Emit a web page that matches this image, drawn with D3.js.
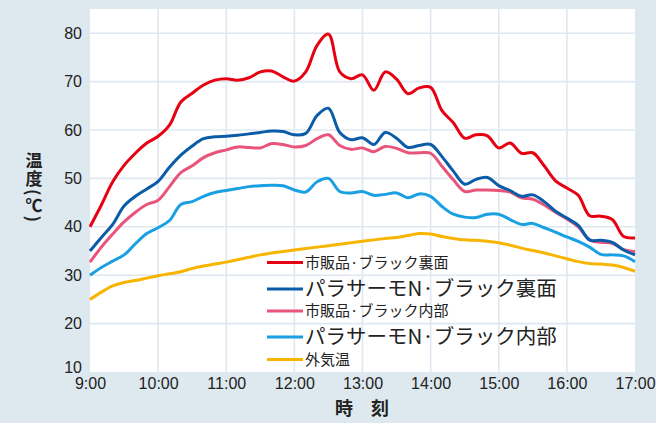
<!DOCTYPE html>
<html lang="ja">
<head>
<meta charset="UTF-8">
<title>温度</title>
<script src="https://cdnjs.cloudflare.com/ajax/libs/d3/7.8.5/d3.min.js"></script>
<style>
    body { margin: 0; background: #dde8ef; }
    svg { display: block; }
    .tick text { font-family: "Liberation Sans", Arial, sans-serif; font-size: 16px; fill: #222; }
    .jp { font-family: "Noto Sans CJK JP", sans-serif; fill: #222; }
</style>
</head>
<body>
<svg width="656" height="423"></svg>
<script>
    // minutes after 9:00, every 10 min
    const minutes = [0, 10, 20, 30, 40, 50, 60, 70, 80, 90, 100, 110, 120,
        130, 140, 150, 160, 170, 180, 190, 200, 210, 220, 230, 240,
        250, 260, 270, 280, 290, 300, 310, 320, 330, 340, 350, 360,
        370, 380, 390, 400, 410, 420, 430, 440, 450, 460, 470, 480];
    const hourTicks = [0, 60, 120, 180, 240, 300, 360, 420, 480];
    const hourLabels = ["9:00", "10:00", "11:00", "12:00", "13:00", "14:00", "15:00", "16:00", "17:00"];
    const tempTicks = [10, 20, 30, 40, 50, 60, 70, 80];

    const shihanUra = [40, 44.5, 49.3, 52.7, 55.2, 57.3, 58.7, 61, 65.8, 67.6, 69.3, 70.3, 70.6,
        70.3, 70.8, 72, 72.2, 71, 70.1, 72, 77.5, 79.8, 72, 70.6, 71.4,
        68.2, 72, 70.5, 67.5, 68.7, 68.8, 64, 61.5, 58.3, 59, 58.8, 56.3,
        57.3, 55.2, 55.3, 52.6, 49.5, 48, 46.5, 42.3, 42.2, 41.5, 38, 37.7];
    const paraUra = [35, 37.8, 40.5, 44.3, 46.3, 47.8, 49.4, 52.3, 54.8, 56.7, 58.2, 58.6, 58.7,
        58.9, 59.2, 59.5, 59.8, 59.7, 59, 59.3, 63, 64.5, 59.5, 58, 58.4,
        57, 59.5, 58.3, 56.4, 56.8, 57, 54.5, 51.5, 48.8, 49.8, 50.2, 48.5,
        47.5, 46.3, 46.6, 45.2, 43.2, 41.8, 40.3, 37.3, 37.2, 36.8, 35.2, 34.2];
    const shihanNai = [32.7, 35.8, 38.5, 41, 43, 44.6, 45.5, 48.3, 51.2, 52.6, 54.3, 55.3, 55.9,
        56.5, 56.4, 56.3, 57.2, 57, 56.5, 56.8, 58.2, 59, 56.8, 56, 56.3,
        55.5, 56.6, 56.2, 55.3, 55.3, 55.2, 52.5, 49.7, 47.3, 47.6, 47.6, 47.5,
        47.2, 46, 45.7, 44.5, 43, 41.6, 40, 37.3, 36.8, 36.6, 35.3, 34.9];
    const paraNai = [30, 31.6, 32.9, 34.2, 36.5, 38.6, 39.8, 41.3, 44.6, 45.2, 46.3, 47.1, 47.5,
        47.9, 48.3, 48.5, 48.6, 48.5, 47.6, 47.2, 49.3, 50, 47.3, 47, 47.3,
        46.5, 46.7, 47, 46, 46.8, 46.3, 44.2, 42.6, 42, 41.9, 42.6, 42.6,
        41.5, 40.5, 40.7, 39.8, 38.9, 37.9, 37, 35.8, 34.3, 34.2, 34, 32.8];
    const gaikion = [25, 26.5, 27.8, 28.5, 28.9, 29.4, 29.9, 30.3, 30.7, 31.4, 31.9, 32.3, 32.7,
        33.2, 33.7, 34.2, 34.6, 34.9, 35.2, 35.5, 35.8, 36.1, 36.4, 36.7, 37,
        37.3, 37.6, 37.8, 38.2, 38.6, 38.5, 38, 37.6, 37.3, 37.2, 37, 36.7,
        36.2, 35.6, 35.1, 34.6, 34, 33.4, 32.8, 32.4, 32.3, 32.1, 31.6, 30.8];

    const seriesNames = ["市販品·ブラック裏面", "パラサーモN·ブラック裏面", "市販品·ブラック内部", "パラサーモN·ブラック内部", "外気温"];
    const seriesColors = ["#e60012", "#0b5ca8", "#e9557a", "#18a0e2", "#f7b500"];
    const seriesValues = [shihanUra, paraUra, shihanNai, paraNai, gaikion];

    const svg = d3.select("svg");
    const plotL = 90, plotR = 635, plotT = 9, plotB = 372;

    const x = d3.scaleLinear().domain([0, 480]).range([plotL, plotR]);
    const y = d3.scaleLinear().domain([10, 85]).range([plotB, plotT]);

    svg.append("rect").attr("width", 656).attr("height", 423).attr("fill", "#dde8ef");
    svg.append("rect")
        .attr("x", plotL).attr("y", plotT)
        .attr("width", plotR - plotL).attr("height", plotB - plotT)
        .attr("fill", "#fff");

    // grid
    const grid = svg.append("g").attr("stroke", "#dfe8f0").attr("stroke-width", 1.6);
    grid.selectAll(".vg").data(hourTicks.slice(1, -1)).enter().append("line")
        .attr("x1", d => x(d)).attr("x2", d => x(d))
        .attr("y1", plotT).attr("y2", plotB);
    grid.selectAll(".hg").data(tempTicks.slice(1)).enter().append("line")
        .attr("x1", plotL).attr("x2", plotR)
        .attr("y1", d => y(d)).attr("y2", d => y(d));

    // axes
    svg.append("g")
        .attr("transform", `translate(${plotL - 8},0)`)
        .call(d3.axisLeft(y).tickValues(tempTicks).tickSize(0).tickPadding(0))
        .call(g => g.select(".domain").remove())
        .call(g => g.selectAll(".tick text").filter(d => d === 10).attr("dy", "0.0em"));
    svg.append("g")
        .attr("transform", `translate(0,${plotB + 4})`)
        .call(d3.axisBottom(x).tickValues(hourTicks).tickSize(0).tickPadding(2)
            .tickFormat((d, i) => hourLabels[i]))
        .call(g => g.select(".domain").remove());

    // lines (yellow first, red on top)
    const line = d3.line()
        .x((d, i) => x(minutes[i]))
        .y(d => y(d))
        .curve(d3.curveCatmullRom.alpha(0.5));
    const order = [4, 3, 2, 1, 0];
    svg.append("g").selectAll("path")
        .data(order).enter().append("path")
        .attr("d", k => line(seriesValues[k]))
        .attr("fill", "none")
        .attr("stroke", k => seriesColors[k])
        .attr("stroke-width", 3)
        .attr("stroke-linejoin", "round");

    // legend
    const legendY = [262.5, 289, 311, 337, 359.5];
    const legendSize = [15, 20.5, 15, 20.5, 15];
    const legend = svg.append("g");
    seriesNames.forEach((name, i) => {
        legend.append("line")
            .attr("x1", 267).attr("x2", 303)
            .attr("y1", legendY[i]).attr("y2", legendY[i])
            .attr("stroke", seriesColors[i]).attr("stroke-width", 3);
        legend.append("text")
            .attr("class", "jp")
            .attr("x", 305).attr("y", legendY[i])
            .attr("dy", "0.36em")
            .attr("font-size", legendSize[i])
            .text(name);
    });

    // axis titles
    svg.append("text")
        .attr("class", "jp")
        .attr("x", 34).attr("y", 152)
        .attr("font-size", 17).attr("font-weight", 700)
        .style("writing-mode", "vertical-rl")
        .style("letter-spacing", "1.5px")
        .text("温度(℃)");

    svg.append("text")
        .attr("class", "jp")
        .attr("x", 362).attr("y", 415)
        .attr("text-anchor", "middle")
        .attr("font-size", 18).attr("font-weight", 700)
        .text("時　刻");
</script>
</body>
</html>
